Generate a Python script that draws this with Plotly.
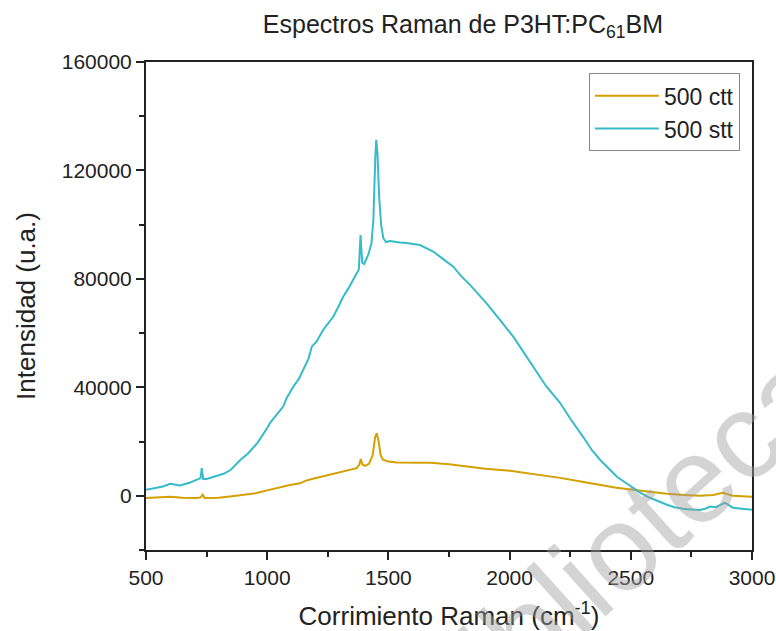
import plotly.graph_objects as go

# Raman shift (cm^-1) and intensities
stt_x = [500, 550, 570, 600, 640, 680, 710, 725, 730, 736, 750, 780, 820, 850, 890, 920, 960,
         1000, 1012, 1040, 1066, 1080, 1108, 1130, 1150, 1170, 1184, 1204, 1231, 1250, 1273,
         1295, 1314, 1335, 1355, 1370, 1378, 1385, 1392, 1400, 1417, 1430, 1438, 1446, 1450,
         1455, 1462, 1470, 1479, 1490, 1506, 1548, 1575, 1630, 1685, 1730, 1768, 1800, 1837,
         1870, 1905, 1960, 2015, 2050, 2097, 2150, 2208, 2250, 2303, 2340, 2373, 2410, 2443,
         2480, 2509, 2545, 2579, 2615, 2649, 2680, 2715, 2750, 2785, 2810, 2827, 2850, 2875,
         2888, 2900, 2921, 2960, 3000]
stt_y = [2200, 3000, 3400, 4400, 3800, 4800, 5800, 6500, 10200, 6200, 6200, 7000, 8100, 9600,
         13300, 15500, 19500, 25000, 26900, 30000, 32900, 36000, 40300, 43000, 46500, 50500,
         55000, 56900, 61200, 63500, 66100, 70000, 73500, 76500, 79600, 82000, 83500, 96200,
         86000, 85500, 88900, 93000, 101700, 125000, 131300, 126000, 110000, 100000, 95000,
         93600, 94000, 93400, 93200, 92500, 90100, 87000, 84500, 81000, 77800, 74500, 71000,
         64900, 58700, 54000, 47700, 40500, 34300, 28500, 21750, 16800, 13300, 10000, 7000,
         4700, 2950, 800, -740, -2200, -3300, -4200, -4800, -5100, -5200, -4700, -4000, -4200,
         -3000, -2600, -3200, -4400, -4800, -5200]

ctt_x = [500, 550, 600, 650, 709, 725, 734, 742, 800, 846, 900, 956, 1000, 1025, 1060, 1094,
         1135, 1160, 1189, 1230, 1271, 1300, 1340, 1369, 1380, 1386, 1393, 1403, 1420, 1435,
         1445, 1452, 1460, 1468, 1478, 1500, 1534, 1600, 1672, 1750, 1824, 1900, 2002, 2100,
         2208, 2300, 2373, 2440, 2509, 2580, 2649, 2720, 2785, 2840, 2880, 2921, 2960, 3000]
ctt_y = [-850, -700, -400, -700, -850, -600, 400, -850, -700, -250, 300, 1000, 2000, 2600, 3300,
         4000, 4600, 5600, 6300, 7200, 8000, 8600, 9600, 10200, 11500, 13600, 11500, 11000,
         11800, 15000, 21500, 23100, 20000, 15000, 13300, 12600, 12300, 12200, 12200, 11600,
         10700, 10000, 9200, 8000, 6600, 5200, 4000, 3000, 2200, 1400, 740, 300, 0, 300, 1100,
         0, -200, -400]

series_names = ["500 ctt", "500 stt"]
series_colors = ["#D4A000", "#36BBC8"]

FONT = "Liberation Sans, Arial, sans-serif"

fig = go.Figure()
fig.add_trace(go.Scatter(x=ctt_x, y=ctt_y, mode="lines", name=series_names[0],
                         line=dict(color=series_colors[0], width=2)))
fig.add_trace(go.Scatter(x=stt_x, y=stt_y, mode="lines", name=series_names[1],
                         line=dict(color=series_colors[1], width=2)))

axis_common = dict(showline=True, linecolor="#222", linewidth=2, mirror=True,
                   ticks="outside", ticklen=8, tickwidth=2, tickcolor="#222",
                   showgrid=False, zeroline=False, automargin=False,
                   tickfont=dict(family=FONT, size=21, color="#222"))

fig.update_xaxes(range=[500, 3000], dtick=500, tick0=500,
                 minor=dict(dtick=250, ticks="outside", ticklen=5, tickwidth=2, tickcolor="#222"),
                 title=dict(text="Corrimiento Raman (cm<sup>-1</sup>)",
                            font=dict(family=FONT, size=26, color="#222"), standoff=20),
                 **axis_common)
fig.update_yaxes(range=[-20000, 160000], dtick=40000, tick0=0, tickformat="d",
                 minor=dict(dtick=20000, ticks="outside", ticklen=5, tickwidth=2, tickcolor="#222"),
                 title=dict(text="Intensidad (u.a.)",
                            font=dict(family=FONT, size=26, color="#222"), standoff=19),
                 **axis_common)

fig.update_layout(
    width=776, height=631,
    margin=dict(l=146, r=24, t=62, b=81, autoexpand=False),
    paper_bgcolor="white", plot_bgcolor="white",
    title=dict(text="Espectros Raman de P3HT:PC<sub>61</sub>BM", xref="paper", x=0.523,
               xanchor="center", y=0.962, yanchor="middle",
               font=dict(family=FONT, size=25, color="#222")),
    legend=dict(x=0.98, y=0.977, xanchor="right", yanchor="top",
                bordercolor="#888", borderwidth=1, bgcolor="white",
                font=dict(family=FONT, size=23, color="#222"),
                itemwidth=64, tracegroupgap=0),
    showlegend=True,
)

# faint diagonal watermark visible on the reference image
fig.add_annotation(text="biblioteca", xref="paper", yref="paper",
                   x=(622 - 146) / 606, y=(550 - 545) / 488, xanchor="center", yanchor="middle",
                   textangle=-42, showarrow=False,
                   font=dict(family=FONT, size=122, color="rgba(160,160,160,0.45)"))

fig.write_html("out.html")
